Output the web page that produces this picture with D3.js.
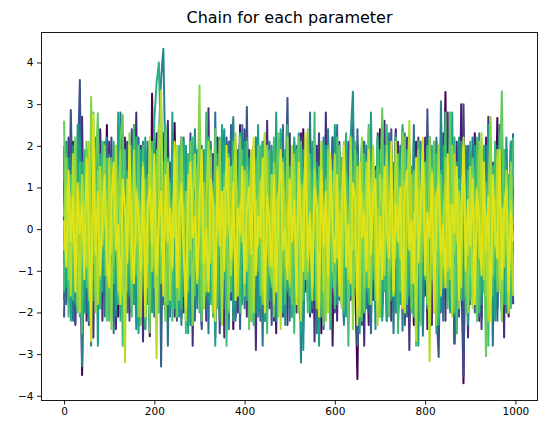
<!DOCTYPE html>
<html><head><meta charset="utf-8">
<script src="https://cdn.jsdelivr.net/npm/d3@7/dist/d3.min.js"></script>
<style>
body{margin:0;background:#fff;}
text{font-family:"DejaVu Sans",sans-serif;fill:#000;}
</style></head>
<body><svg id="chart" width="546" height="434"></svg>
<script>
// iteration index of each stored sample (every 5th draw of 1000)
const iterations = d3.range(0, 1000, 5);
const title = "Chain for each parameter";
const xTicks = [0, 200, 400, 600, 800, 1000];
const yTicks = [-4, -3, -2, -1, 0, 1, 2, 3, 4];

const chain0 = [0.4,-1.2,1.6,0.3,-0.8,1.9,-0.2,0.9,-3.5,1.1,-0.6,0.2,1.4,-1.7,0.7,-0.3,-1.9,1.2,0.1,2.5,
-1.1,0.6,-0.4,1.8,-2.1,0.3,1.0,-0.9,0.5,-1.4,1.3,2.5,-0.7,0.0,-1.6,0.8,1.7,-0.5,-2.57,3.25,
-0.3,0.9,-1.3,1.5,0.2,-2.0,0.7,-0.1,1.1,2.55,-0.9,0.4,-1.8,1.2,-0.4,0.6,2.1,-1.1,0.3,-0.7,
1.4,-2.3,0.5,0.9,-0.6,1.7,-1.5,0.1,2.2,-0.8,0.4,-1.2,1.0,-0.2,1.9,-2.4,0.6,-0.5,1.3,0.0,
-1.0,2.3,-0.3,0.8,-1.9,1.1,0.2,-0.7,1.6,-2.2,0.5,1.2,-0.4,2.0,-1.3,0.3,-0.9,1.5,-1.6,0.7,
0.1,-2.1,1.8,-0.5,0.9,-1.4,2.4,-0.2,0.6,-1.1,1.3,-0.8,0.2,1.9,-2.5,0.4,-0.3,1.0,-1.7,2.2,
-0.6,0.8,-1.5,1.4,0.0,-2.0,1.7,-0.4,0.5,-1.2,-3.6,1.1,-0.7,2.1,-0.1,0.9,-1.8,1.5,-0.5,0.3,
2.4,-1.3,0.7,-2.2,1.2,-0.3,0.6,1.8,-1.0,0.2,-1.6,2.0,-0.8,0.4,1.3,-2.3,0.9,-0.2,1.6,-1.1,
0.5,-0.9,2.2,-1.5,0.3,1.0,-2.1,0.7,-0.4,3.29,-1.2,0.8,1.4,-2.75,0.1,1.9,-0.6,-3.7,1.2,-0.3,
0.6,-1.4,2.3,-0.2,-1.9,1.1,0.4,-0.8,1.7,-2.0,0.9,-0.5,2.67,-1.3,0.2,1.5,-1.7,0.7,-0.4,1.0];
const chain1 = [-0.7,1.3,0.2,-1.8,2.1,-0.4,0.8,-1.1,1.6,0.0,-2.2,1.0,-0.3,1.9,-1.4,0.6,2.4,-0.9,0.3,-1.6,
1.2,-0.2,-2.0,0.9,1.7,-1.3,0.4,2.2,-0.6,0.1,-1.9,1.4,-0.8,0.7,2.0,-2.4,0.5,-0.1,1.5,-1.2,
0.3,2.3,-1.7,0.8,-0.5,1.1,-2.1,0.6,1.8,-0.9,0.0,-1.5,2.1,-0.3,0.9,-2.3,1.3,0.2,-1.0,1.6,
-0.4,0.7,-1.8,2.2,-0.7,1.0,0.3,-2.6,1.5,-0.2,0.8,-1.3,2.0,-0.6,0.4,1.2,-1.9,0.1,2.5,-1.1,
0.5,-0.8,1.7,-2.2,0.2,1.4,-0.5,0.9,-1.6,2.1,-0.1,-1.0,1.3,0.6,-2.5,1.8,-0.3,0.7,-1.4,2.0,
-0.9,0.4,1.6,-1.7,0.0,2.3,-1.2,0.8,-0.4,1.1,-2.0,0.5,1.9,-0.7,0.3,-1.5,2.2,-0.2,0.9,-2.8,
1.0,-0.6,0.2,1.7,-1.3,0.6,-2.1,1.4,0.1,-0.8,2.0,-1.6,0.4,1.2,-0.3,-2.3,0.8,1.5,-1.0,0.3,
-1.9,2.2,-0.4,0.7,1.3,-1.2,0.0,2.4,-2.2,0.5,-0.7,1.0,-1.4,1.8,0.2,-0.9,2.1,-1.8,0.6,-0.1,
1.5,-2.4,0.9,-0.5,1.1,0.3,-1.6,2.0,-0.2,0.7,-1.1,1.6,-2.0,0.4,1.2,-0.6,3.0,-1.3,0.1,-0.8,
1.9,-1.5,0.6,0.0,-2.2,1.4,-0.4,2.2,-1.0,0.8,-1.7,0.3,1.1,-0.9,2.0,-1.4,0.5,-2.1,1.3,-0.3];
const chainA = [1.9,-1.6,2.2,-2.0,1.4,-2.3,1.7,-1.2,2.7,-1.8,0.6,-2.1,1.5,-2.6,2.0,-1.3,2.3,-2.2,1.1,-1.7,
2.1,-1.4,1.6,-2.4,0.9,-1.8,2.2,-1.5,1.8,-2.0,1.3,-1.1,2.8,-1.9,1.6,-2.7,1.9,-0.8,2.0,-1.6,
1.2,-2.3,2.1,-1.7,1.5,-1.9,2.6,-1.4,1.7,-2.1,0.8,-1.6,2.2,-2.0,1.4,-1.2,1.9,-2.8,1.6,-1.5,
2.0,-1.8,1.3,-2.2,2.9,-1.6,1.8,-1.0,2.1,-1.9,1.5,-2.6,1.1,-1.7,2.2,-1.4,1.7,-2.0,2.3,-1.2,
1.6,-2.1,1.9,-1.5,1.2,-2.9,2.0,-1.8,1.4,-1.3,2.6,-1.9,1.8,-2.2,0.9,-1.6,2.1,-1.4,1.7,-2.3,
2.3,-1.1,1.5,-2.0,1.9,-1.7,2.2,-1.5,1.3,-2.1,1.7,-2.7,2.0,-1.2,1.6,-1.9,2.8,-1.6,1.1,-1.8,
1.8,-2.2,2.1,-1.3,1.4,-2.0,1.9,-1.6,2.7,-1.4,1.2,-1.9,2.0,-2.8,1.6,-1.1,2.2,-1.7,1.5,-2.1,
1.3,-1.8,2.6,-1.5,1.7,-2.2,1.0,-2.0,2.1,-1.6,1.9,-1.3,2.2,-2.9,1.5,-1.7,1.8,-2.1,2.0,-1.2,
2.2,-1.9,1.4,-2.3,1.8,-1.0,2.0,-1.7,1.6,-2.2,2.8,-1.5,1.2,-1.8,2.1,-2.0,1.7,-1.4,1.9,-2.6,
1.5,-1.6,2.2,-1.9,1.3,-2.1,1.8,-1.2,2.7,-1.7,1.6,-2.0,2.0,-1.5,1.1,-2.6,1.9,-1.3,2.1,-1.8];
const chain2 = [1.1,-1.5,0.3,0.9,-2.0,1.6,-0.7,0.2,1.8,-1.1,0.5,-2.3,1.2,-0.4,0.8,2.0,-1.6,0.1,-0.9,1.4,
-0.2,2.2,-1.4,0.6,0.0,-1.8,1.3,-0.6,2.1,-2.2,0.7,0.3,-1.0,1.7,-0.3,0.9,-2.4,1.5,-0.5,0.4,
1.9,-1.3,0.2,-0.8,2.3,-1.9,0.6,1.0,-0.2,-1.6,1.4,0.1,-2.1,0.8,1.7,-0.7,0.3,-1.2,2.2,-0.4,
0.9,-2.0,1.2,0.5,-1.5,0.0,1.8,-0.9,0.4,-2.5,1.6,-0.3,0.7,2.1,-1.7,0.2,-0.6,1.3,-1.1,0.8,
2.4,-1.2,0.1,-0.7,1.5,-2.2,0.6,1.1,-0.4,0.3,-1.8,2.0,-0.1,0.8,-1.3,1.6,0.0,-2.1,1.2,-0.5,
0.4,1.9,-1.6,0.7,-0.3,2.2,-2.4,1.0,0.2,-0.9,1.4,-1.4,0.5,2.3,-0.8,0.1,-1.9,1.1,-0.2,0.6,
-2.0,1.7,0.3,-1.1,0.9,-0.4,2.1,-1.7,0.0,1.3,-0.6,0.8,-2.3,1.5,-0.1,0.4,1.9,-1.2,0.7,-0.8,
1.2,-2.1,0.5,0.2,-1.5,2.0,-0.3,1.0,-1.9,0.6,1.7,-0.7,0.1,-2.2,1.3,-0.4,0.9,2.2,-1.0,0.3,
-1.6,0.8,1.5,-0.2,-2.0,1.1,0.4,-0.9,2.3,-1.3,0.0,1.6,-0.5,0.7,-1.8,1.2,-0.6,3.0,-1.1,0.5,
0.2,-1.4,1.8,-0.3,0.9,-2.4,1.0,0.6,-0.8,2.1,-1.5,0.3,-0.1,1.4,-2.0,0.8,0.4,-1.2,1.7,-0.6];
const chain3 = [-2.12,0.8,-0.5,2.86,0.1,-2.26,1.2,3.58,-1.0,0.4,-1.7,1.5,-0.2,0.9,2.0,-1.3,0.3,-0.8,1.7,-2.1,
0.6,1.1,-0.4,-1.9,2.2,0.0,-1.1,1.4,-0.6,0.7,2.4,-1.5,0.2,-2.33,1.0,-0.3,1.8,-0.9,0.5,-1.6,
1.3,-0.1,2.1,-2.0,0.4,0.9,-1.2,1.6,-0.7,0.3,-2.2,1.9,0.1,-0.5,1.2,-1.8,2.3,-0.4,0.6,-1.0,
1.5,-2.4,0.2,0.8,-1.4,2.0,-0.3,1.1,-1.7,0.5,0.0,-0.9,2.2,-1.2,0.4,1.3,-2.1,0.7,-0.2,1.6,
-1.3,2.93,-0.8,0.3,-1.9,1.2,0.6,-0.4,2.1,-1.6,0.1,0.9,-2.3,1.4,-0.6,0.2,1.8,-1.1,0.5,3.15,
-0.7,-1.5,1.0,0.3,-2.0,1.7,-0.2,0.8,-1.2,2.2,-0.5,0.1,-1.8,1.3,0.6,-2.4,1.9,-0.3,0.7,-1.0,
2.1,-1.6,0.4,1.1,-0.8,0.0,-2.2,1.5,-0.4,0.9,2.0,-1.3,0.2,-0.7,1.6,-2.0,0.8,0.3,-1.4,2.3,
-0.1,-1.8,1.2,0.5,-0.9,2.4,-1.7,0.6,0.0,-1.1,1.4,-2.3,0.7,1.9,-0.5,0.2,-1.5,1.0,-0.3,2.1,
-1.2,2.88,-0.6,0.4,1.3,-1.9,-3.07,0.9,-0.2,1.7,-1.4,0.5,2.2,-0.8,0.1,-2.1,1.1,-3.53,0.6,-0.4,
1.8,-1.0,0.3,-2.2,1.5,0.7,-0.9,2.0,-1.6,0.2,1.2,-0.5,-1.9,0.8,2.3,-1.3,0.4,-0.7,1.6,-1.8];
const chain4 = [0.9,-1.8,1.5,-0.3,0.2,2.1,-1.2,0.6,-0.7,1.8,-2.0,0.4,1.1,-1.5,0.0,2.3,-0.9,0.5,-1.3,0.8,
-0.4,1.6,-2.2,0.3,1.2,-0.8,0.7,-1.6,2.0,0.1,-1.0,1.4,-0.2,2.2,-1.9,0.6,-0.5,1.0,-2.3,1.7,
0.2,-1.1,2.4,-3.3,0.8,1.3,-0.6,0.0,-1.7,1.9,-0.3,0.7,2.1,-1.4,0.4,-2.1,1.2,-0.1,0.9,-1.2,
1.7,-0.7,0.3,-2.0,1.4,0.6,-1.5,2.2,-0.4,0.1,1.0,-1.9,0.5,-0.9,2.5,-1.3,0.2,1.5,-2.4,0.7,
-0.2,1.1,-1.6,0.4,2.0,-0.8,0.0,-2.2,1.6,0.3,-1.1,1.9,-0.5,0.8,-1.8,1.3,2.3,-1.4,0.1,-0.6,
1.2,-2.0,0.6,1.8,-0.3,-1.3,0.9,2.1,-1.7,0.2,-0.7,1.4,-2.3,0.5,1.0,-0.1,1.7,-1.0,0.4,2.2,
-1.5,0.8,-0.4,1.3,-2.1,0.0,1.9,-0.9,0.6,-1.6,2.4,-0.2,0.7,-1.2,1.5,0.3,-2.5,1.1,-0.6,0.9,
-1.8,2.0,0.1,-0.7,1.4,-1.4,0.5,2.3,-2.0,0.2,0.8,-1.1,1.6,-0.3,-1.9,1.2,0.4,-0.8,2.1,-1.5,
0.7,0.0,-2.2,1.7,-0.5,1.0,-1.3,2.2,-0.1,0.6,-1.7,1.3,0.3,-2.73,0.9,1.8,-0.9,0.2,-1.4,2.0,
-0.6,1.1,-2.0,0.5,1.5,-0.3,0.8,-1.6,2.3,-1.1,0.1,1.4,-2.2,0.7,-0.4,1.9,-1.2,0.3,1.0,2.3];
const chainB = [-1.7,2.1,-1.3,1.8,-2.2,1.5,-1.9,2.5,-1.1,1.6,-2.0,1.2,-2.8,1.9,-1.5,2.0,-1.8,1.4,-2.1,2.2,
-1.2,1.7,-2.5,1.3,-1.6,2.8,-1.9,1.1,-2.0,1.8,-1.4,2.2,-1.7,1.5,-2.2,1.0,-1.8,2.1,-1.3,1.9,
-2.1,1.4,-1.5,2.5,-1.8,1.6,-2.8,1.2,-1.3,2.0,-1.9,1.7,-1.1,2.2,-2.0,1.5,-1.6,1.9,-2.2,1.3,
-1.4,2.0,-1.9,1.1,-2.5,1.8,-1.5,2.8,-1.7,1.3,-2.1,1.6,-1.8,2.1,-1.2,1.4,-2.2,1.9,-1.6,2.5,
-1.9,1.2,-2.0,1.7,-1.3,2.2,-1.6,1.5,-2.8,1.9,-1.1,2.1,-1.7,1.3,-2.0,1.8,-1.5,2.5,-1.9,1.0,
-2.2,1.6,-1.4,2.0,-1.8,1.4,-2.1,1.7,-1.2,2.8,-1.9,1.5,-2.5,1.1,-1.6,2.2,-1.3,1.8,-2.0,1.6,
-1.5,2.5,-1.7,1.2,-2.2,1.9,-1.1,2.0,-1.8,1.6,-2.8,1.3,-1.4,2.1,-1.9,1.7,-2.1,1.2,-1.6,2.2,
-2.0,1.5,-1.3,2.2,-1.7,1.0,-2.5,1.8,-1.5,2.0,-1.2,1.9,-2.1,1.4,-1.8,2.5,-1.6,1.1,-2.2,1.7,
-1.3,1.9,-2.0,1.6,-1.4,2.1,-1.9,1.3,-2.2,1.7,-1.6,2.8,-1.1,1.5,-2.5,1.8,-1.7,2.0,-1.2,1.4,
-1.8,2.2,-1.5,1.2,-2.1,1.9,-1.3,2.0,-1.7,1.4,-2.8,1.6,-1.9,2.5,-1.0,1.8,-2.0,1.1,-1.6,2.1];
const chain5 = [-0.3,1.4,-1.7,0.6,2.0,-0.8,0.1,1.2,-3.29,0.9,-0.5,1.7,-1.3,0.4,2.2,-2.0,0.7,-0.2,1.0,-1.4,
1.8,-0.6,0.3,-2.1,1.3,0.0,2.3,-1.2,0.5,-0.9,1.6,-1.8,0.8,0.2,-1.5,2.1,-0.4,1.1,-2.2,0.6,
1.5,-0.7,2.2,3.6,4.33,1.2,-1.6,0.4,-0.9,2.0,-0.1,1.3,-2.3,0.7,-0.4,1.8,-1.1,0.2,2.4,-1.9,
0.5,-0.2,1.1,-1.5,0.8,2.1,-2.0,0.3,-0.6,1.6,-1.3,0.9,0.0,-2.4,1.4,2.69,-0.7,0.4,-1.8,1.2,
-0.3,2.2,-1.4,0.6,0.1,-2.0,1.7,-0.8,0.9,2.3,-1.1,0.2,-0.5,1.5,-2.2,0.7,1.9,-1.6,0.3,-0.4,
1.0,-1.9,2.1,-0.6,0.5,-3.2,1.3,-0.1,0.8,-1.2,2.0,-0.3,1.6,-2.1,0.4,0.9,-1.5,2.4,-0.7,0.1,
-1.1,1.8,-0.4,0.6,-2.3,1.2,0.0,2.2,-1.7,0.5,-0.8,1.4,-0.2,-1.9,2.0,0.3,-1.3,1.0,-0.6,1.7,
-2.0,0.8,0.2,-1.0,2.3,-1.6,0.6,1.3,-0.5,0.9,-2.44,1.5,-0.1,0.4,-1.4,2.1,-0.9,0.7,1.1,-2.56,
0.3,1.9,-1.2,0.0,-0.7,2.2,-1.8,3.07,-0.3,0.6,-1.5,1.2,0.4,-2.1,1.6,-0.5,0.9,-1.0,2.0,-0.2,
-1.7,1.0,0.5,-0.8,2.3,-1.3,0.2,1.4,-2.2,0.7,-0.4,1.8,-1.1,0.1,-1.97,1.3,0.6,-0.9,2.1,-0.5];
const chain6 = [1.2,-0.4,0.8,-1.9,0.3,1.6,-1.1,2.2,-0.6,0.0,1.4,-2.2,0.7,-0.3,1.9,-1.4,0.5,2.1,-0.9,0.2,
-1.6,1.0,0.4,-0.7,2.3,-2.0,0.6,1.3,-0.2,-1.3,1.7,0.1,-2.4,0.9,1.5,-0.5,0.3,-1.8,2.0,-0.1,
0.7,-1.2,1.8,3.0,-0.8,0.5,1.1,-2.1,0.2,1.6,-0.6,-1.5,2.2,0.0,-0.9,1.3,-2.3,0.8,0.4,1.9,
-1.0,0.6,-0.3,2.0,-1.7,1.2,0.1,-0.7,1.5,-2.2,0.9,2.4,-1.3,0.3,-0.5,1.1,-1.9,0.7,2.1,-0.4,
0.2,-1.5,1.7,-0.9,0.6,2.2,-2.1,0.0,1.0,-0.6,1.4,-1.7,0.5,-0.2,2.0,-1.2,0.8,0.3,-2.3,1.6,
-0.7,1.1,0.4,-1.4,2.3,-0.1,-2.9,0.9,1.5,-1.0,0.2,1.8,-1.6,0.6,-0.4,2.1,-2.0,0.7,1.2,-0.3,
0.5,-1.8,1.9,-0.5,0.0,1.4,-1.2,2.2,3.3,-0.8,0.3,-2.1,1.0,0.6,-1.5,1.7,-0.2,0.8,-2.4,1.3,
0.1,-0.9,2.0,-1.3,0.7,1.5,-0.4,-1.9,1.2,0.3,-0.6,2.3,-1.7,0.9,0.0,-1.1,1.6,-2.2,0.5,1.0,
-0.3,1.8,-1.4,0.4,2.1,-0.8,0.2,-2.0,1.3,-0.5,0.8,1.9,-1.2,0.1,-1.6,2.2,-0.7,0.6,1.1,-2.3,
0.9,-0.2,1.5,-1.1,0.4,-1.8,2.0,0.0,-0.6,1.3,-2.1,0.7,1.7,-0.4,0.3,-1.5,2.2,-0.9,0.5,1.2];
const chainC = [2.0,-1.4,1.7,-2.2,1.2,-1.8,2.5,-1.6,1.5,-2.0,1.9,-1.1,2.2,-1.7,1.3,-2.8,1.8,-1.5,2.1,-1.2,
1.6,-2.1,1.1,-1.9,2.8,-1.3,1.8,-2.2,1.4,-1.6,2.0,-1.8,1.2,-2.5,1.9,-1.0,2.2,-1.7,1.5,-2.0,
1.8,-1.5,2.1,-1.2,1.6,-2.2,1.3,-1.9,2.8,-1.4,1.7,-2.1,1.0,-1.6,2.0,-2.5,1.4,-1.8,2.2,-1.1,
1.3,-2.0,1.9,-1.6,2.2,-1.4,1.1,-2.8,1.8,-1.7,2.5,-1.2,1.6,-1.9,1.4,-2.2,2.0,-1.5,1.2,-1.8,
2.1,-1.7,1.4,-2.1,1.8,-1.1,2.5,-1.9,1.2,-2.2,1.7,-1.4,2.0,-1.6,2.8,-1.3,1.5,-2.0,1.9,-1.5,
1.1,-1.8,2.2,-1.5,1.6,-2.5,1.9,-1.2,1.4,-2.0,2.1,-1.7,1.3,-2.8,1.8,-1.1,2.0,-1.9,1.6,-1.4,
2.5,-1.3,1.5,-1.8,2.0,-2.1,1.2,-1.6,2.2,-1.4,1.8,-2.5,1.1,-1.9,1.7,-1.5,2.8,-1.2,1.4,-2.0,
1.9,-2.2,1.3,-1.4,2.1,-1.7,1.6,-2.0,1.0,-1.8,2.5,-1.3,1.9,-1.6,1.2,-2.1,1.7,-2.8,2.0,-1.1,
1.4,-1.9,2.2,-1.2,1.8,-2.5,1.5,-1.5,2.0,-1.1,1.3,-2.0,2.8,-1.8,1.6,-1.4,2.1,-1.7,1.1,-2.2,
1.7,-1.3,2.0,-2.1,1.4,-1.6,1.9,-1.9,2.5,-1.2,1.5,-2.2,1.2,-1.5,2.2,-1.8,1.6,-1.0,2.1,-1.6];
const chain7 = [-0.9,2.0,-0.2,0.7,-1.5,1.1,0.4,-2.1,1.6,-0.5,0.2,1.9,-1.3,0.8,-0.7,2.3,-1.8,0.3,1.2,-0.4,
0.6,-1.6,2.1,-0.3,0.9,-2.2,1.4,0.1,-1.0,1.8,-0.6,0.5,2.2,-1.7,0.0,1.0,-2.4,0.7,1.5,-0.8,
2.6,3.5,4.0,1.9,-1.2,0.3,1.7,-0.5,0.8,-1.9,1.2,0.0,-0.7,2.1,-1.4,0.6,1.5,-2.2,0.4,-0.1,
1.9,-1.1,0.5,-0.6,2.2,-1.8,0.9,0.2,-1.4,1.6,-0.3,2.0,-2.0,0.7,1.1,-0.8,0.3,-1.6,2.3,0.1,
-1.2,0.8,1.4,-0.4,-2.3,1.7,0.2,-0.9,2.1,-1.5,0.6,1.0,-0.2,-1.8,1.3,0.4,2.4,-1.1,0.0,-0.7,
1.5,-2.1,0.9,0.3,-0.5,1.8,-1.3,0.6,2.2,-1.9,0.1,-0.8,1.2,0.5,-1.7,2.0,-0.3,0.8,-2.4,1.4,
0.2,-0.6,1.7,-1.2,0.9,2.3,-2.0,0.4,-0.1,1.1,-1.5,0.7,2.1,-0.9,0.3,-1.8,1.6,0.0,-0.4,2.2,
-1.4,0.6,1.0,-2.2,0.5,1.9,-0.7,0.2,-1.6,1.3,2.4,-1.0,0.8,-0.3,1.5,-2.1,0.4,1.8,-0.8,0.1,
1.2,-1.7,0.3,2.0,-0.5,0.7,-2.3,1.4,0.9,-1.1,0.0,1.7,-0.6,2.2,-1.9,0.5,1.1,-0.2,-1.4,0.8,
2.1,-0.9,0.4,1.3,-1.6,0.2,2.0,-2.2,0.7,-0.4,1.5,-1.2,0.6,2.3,-0.7,0.0,1.0,-1.8,0.9,-0.3];
const chainD = [-1.5,1.8,-2.1,1.3,-1.7,2.2,-1.2,1.6,-2.5,1.9,-1.4,1.1,-2.0,2.8,-1.6,1.4,-1.9,2.1,-1.1,1.7,
-2.2,1.5,-1.3,2.0,-1.8,1.2,-2.8,1.9,-1.5,1.6,-2.1,2.5,-1.1,1.4,-1.7,2.0,-2.2,1.3,-1.6,2.1,
-1.4,1.9,-2.0,1.6,-1.2,2.5,-1.8,1.1,-2.2,1.7,-1.5,2.0,-1.9,1.3,-2.5,1.8,-1.1,2.2,-1.6,1.5,
-2.0,1.2,-1.6,2.8,-1.3,1.7,-2.1,1.5,-1.9,2.2,-1.2,1.4,-2.8,1.8,-1.5,2.1,-1.7,1.0,-2.0,1.9,
-1.3,2.1,-1.8,1.4,-2.2,1.6,-1.0,2.0,-1.7,1.3,-2.5,1.9,-1.4,2.2,-1.1,1.5,-2.0,1.7,-1.8,2.5,
-1.6,1.3,-2.5,1.9,-1.4,2.1,-1.7,1.2,-2.0,1.8,-1.3,2.8,-1.9,1.5,-2.1,1.1,-1.5,2.0,-2.2,1.4,
-1.9,2.2,-1.1,1.7,-2.0,1.4,-2.8,1.9,-1.3,2.1,-1.6,1.2,-2.2,1.8,-1.4,2.5,-1.8,1.5,-1.2,2.0,
-2.1,1.6,-1.5,2.5,-1.9,1.1,-1.6,2.2,-2.5,1.4,-1.2,1.9,-1.8,1.7,-2.0,1.3,-2.8,2.1,-1.4,1.6,
-1.2,2.0,-2.2,1.5,-1.6,1.8,-2.1,1.3,-1.4,2.8,-1.9,1.6,-1.1,2.0,-2.5,1.2,-1.7,1.9,-2.0,1.4,
-1.7,1.5,-1.3,2.2,-2.0,1.7,-1.5,1.1,-2.8,1.8,-1.6,2.1,-1.2,1.4,-2.2,1.9,-1.8,1.3,-1.9,2.2];
const chain8 = [2.6,-0.6,0.9,-1.4,1.8,0.2,-2.0,1.1,-0.3,0.7,2.1,-1.7,0.4,-0.8,1.5,2.78,-1.2,0.0,1.3,-2.2,
0.5,1.7,-0.9,0.3,-1.6,2.2,2.74,-1.1,0.8,0.1,-1.9,1.4,-0.4,2.0,-2.3,0.6,1.2,-0.7,-2.48,1.9,
-0.5,0.9,1.6,-1.3,0.2,2.3,-1.8,0.7,-0.1,1.2,-2.1,0.4,1.8,-0.6,0.0,-1.5,2.1,0.8,-1.0,1.4,
0.3,-2.2,1.0,0.5,-0.8,1.9,-1.4,2.4,-0.2,0.6,-1.7,1.3,0.1,-2.0,0.9,1.6,-0.4,-1.2,2.2,0.3,
-0.9,1.5,-2.4,0.7,1.1,-0.3,2.0,-1.6,0.4,0.0,1.8,-1.1,0.6,-2.1,1.3,2.3,-0.7,0.2,-1.4,1.0,
0.5,-1.8,1.6,-0.4,2.2,-2.0,0.8,0.1,-1.2,1.4,-0.6,2.1,-1.5,0.3,0.9,-2.3,1.2,-0.1,1.7,-0.9,
-1.6,0.6,2.0,-0.8,0.2,1.3,-2.2,0.7,-0.3,1.9,0.4,-1.3,1.1,-2.0,0.5,2.4,-0.5,0.0,-1.7,1.5,
0.8,2.9,-1.0,0.3,-2.1,1.2,0.6,-0.7,1.8,-1.5,0.1,2.2,-0.4,0.9,-1.9,1.4,-0.2,0.7,-2.3,1.0,
1.6,-1.2,0.4,-0.6,2.1,-1.8,0.2,1.3,-0.9,0.5,-1.4,2.79,0.0,-2.0,1.1,0.6,-0.5,1.9,-1.6,0.3,
-1.1,1.7,0.8,-2.2,0.2,1.4,-0.3,-3.05,1.0,2.0,-0.8,0.5,-1.5,1.2,3.31,-0.6,0.9,-1.9,1.5,0.1];
const chain9 = [0.3,1.7,-1.2,0.8,-0.4,2.2,-1.9,0.5,1.1,-0.7,0.0,-1.5,3.17,0.6,-2.0,1.4,-0.3,0.9,2.0,-1.1,
0.4,-2.4,1.3,-0.2,0.7,1.9,-1.6,0.1,-0.8,2.3,-1.3,0.6,1.0,-2.1,0.2,1.6,-0.5,-1.4,2.1,0.8,
-0.9,1.2,2.5,-0.6,0.3,-2.2,1.5,0.0,-1.0,1.8,0.5,-1.7,2.2,-0.3,0.9,-1.2,1.4,-2.3,0.7,0.2,
3.45,-0.8,1.1,-1.5,0.4,1.7,-2.0,0.6,-0.1,2.1,-1.3,0.9,0.3,-1.9,1.5,-0.5,2.3,-1.1,0.0,0.8,
-1.6,1.3,0.5,-2.2,1.9,-0.4,0.7,1.2,-1.8,0.1,2.0,-0.7,-1.3,1.6,0.4,-2.1,1.0,0.6,-0.9,2.2,
-1.4,0.2,1.8,-0.6,-2.0,1.1,0.8,-1.2,2.4,0.0,-0.5,1.5,-1.9,0.7,1.3,-0.3,-2.2,1.9,0.4,-1.0,
1.6,-0.2,0.9,-1.7,2.1,0.3,-1.1,1.4,-2.4,0.6,1.0,-0.7,2.2,-1.4,0.1,0.8,-1.8,1.7,-0.4,0.5,
-2.1,1.2,0.4,2.0,-1.0,0.0,-1.6,1.5,0.7,-0.5,2.3,-2.0,0.9,-0.2,1.3,-1.3,0.6,1.9,-0.8,0.2,
1.1,-1.8,2.2,-0.4,0.5,-2.3,1.4,0.0,-0.9,1.7,0.3,-1.2,2.0,-0.6,1.0,-1.9,0.7,1.5,-0.3,-2.0,
0.8,1.3,-1.4,0.2,2.1,-0.7,0.9,-1.6,0.4,2.69,-1.1,0.6,-0.5,1.8,-2.2,0.3,1.2,-0.8,1.6,-1.3];
const chain10 = [-0.5,1.0,0.4,-1.6,1.8,-0.2,0.7,-2.0,1.3,0.1,-0.9,2.1,-1.3,0.6,0.2,-1.8,1.5,-0.4,0.9,-1.1,
1.7,-0.6,0.3,2.0,-1.5,0.8,-0.1,-3.2,1.2,0.5,-1.2,1.9,-0.3,0.7,-2.1,1.4,0.0,-0.8,2.2,-1.0,
0.6,-3.1,1.1,3.33,-0.7,0.2,1.6,-1.7,0.4,-0.2,2.0,-1.4,0.9,0.3,-2.2,1.3,-0.5,0.7,1.8,-1.3,
0.0,1.2,-1.9,0.5,2.1,-0.8,0.3,-1.4,1.5,0.8,-2.3,1.0,-0.2,1.7,-1.1,0.4,2.2,-1.6,0.6,-0.3,
1.4,-1.0,0.2,1.9,-2.0,0.7,-0.4,1.1,-1.5,2.3,0.0,-0.9,1.3,-1.8,0.5,0.9,-2.4,1.6,-0.1,0.6,
-1.3,2.0,0.3,-0.6,1.2,-2.2,0.8,1.7,-1.0,0.1,-1.7,1.4,0.5,-0.3,2.1,-1.5,0.7,-2.0,1.0,0.2,
1.8,-0.7,0.4,-1.9,1.1,0.6,-1.2,2.2,-0.5,0.0,1.5,-2.1,0.9,-0.2,1.6,-1.4,0.3,2.0,-0.9,-2.3,
1.3,0.5,-1.1,1.8,-0.4,0.8,-1.6,2.1,0.1,-0.7,1.2,-2.0,0.6,2.6,-1.3,0.4,-2.68,1.0,-0.1,1.7,
-0.8,0.3,-3.17,1.4,0.7,-0.5,2.0,-1.6,0.2,1.1,-1.0,0.6,-2.1,1.8,-0.3,0.9,-1.4,2.2,0.0,-0.6,
1.5,-1.9,0.4,1.0,-0.7,2.3,-1.2,0.3,-2.2,1.3,0.8,-0.4,1.9,-1.5,0.5,-0.9,1.4,-2.0,0.7,-1.6];
const chain11 = [0.2,-0.9,1.4,-0.3,0.8,-1.5,1.1,-0.1,0.6,-1.2,1.7,0.0,-2.69,2.76,-0.6,0.9,-1.1,0.4,1.3,-0.7,
-1.4,0.7,1.6,-0.5,0.1,-1.8,1.2,0.5,-0.8,2.0,-0.2,-1.3,0.9,0.3,-1.0,1.5,-2.1,0.6,1.0,-0.4,
1.8,-1.1,0.2,0.9,-1.6,1.3,-0.3,0.5,-0.9,2.1,-1.4,0.4,1.1,-0.6,-1.9,0.8,1.6,-0.2,0.3,-1.2,
0.7,1.9,-0.8,0.0,-1.5,1.2,0.6,-2.2,1.4,-0.4,0.9,-1.0,2.0,0.2,-0.7,1.1,-1.7,0.5,-0.1,1.5,
-1.3,0.4,1.0,-0.6,2.2,-1.1,0.3,-0.2,1.7,-2.0,0.8,0.1,-0.9,1.3,-1.5,0.6,1.9,-0.5,0.0,-1.2,
1.2,-0.3,0.7,-1.8,1.6,0.2,-1.0,2.3,-0.7,0.4,-1.4,1.0,0.6,-2.1,1.4,-0.4,0.9,-1.1,1.8,0.0,
-0.8,1.3,-1.6,0.5,2.0,-0.9,0.1,-1.3,1.1,0.7,-2.3,1.6,-0.2,0.4,-1.0,1.9,-0.6,0.8,1.2,-1.7,
0.3,-1.2,1.5,0.0,-0.7,2.1,-1.5,0.6,-0.3,1.0,-1.9,0.9,1.4,-0.5,0.2,-1.3,1.7,-0.8,0.5,2.2,
-1.1,0.4,-0.2,1.3,-2.0,0.8,1.1,-0.6,0.1,-1.4,1.8,-0.9,0.6,-0.1,1.5,-1.7,0.3,2.0,-1.0,0.7,
-0.4,1.2,-1.8,0.9,0.2,-1.1,1.6,-0.5,0.8,-2.2,1.3,0.0,-0.7,1.9,-1.2,0.5,1.0,-1.5,0.4,-0.3];

// drawing order = colour order (first = dark purple, last = yellow, drawn on top)
const chains = [chain0, chain1, chainA, chain2, chain3, chain4, chainB, chain5,
                chain6, chainC, chain7, chainD, chain8, chain9, chain10, chain11];
</script>
<script>
const svg = d3.select("#chart");
const W = 546, H = 434;
const m = {left: 41.5, right: 8.5, top: 32, bottom: 34};
const pw = W - m.left - m.right, ph = H - m.top - m.bottom;

const nIter = 999;
const x = d3.scaleLinear().domain([-0.05 * nIter, nIter * 1.05]).range([m.left, m.left + pw]);
const allVals = chains.flat();
const [ymin, ymax] = d3.extent(allVals);
const pad = (ymax - ymin) * 0.05;
const y = d3.scaleLinear().domain([ymin - pad, ymax + pad]).range([m.top + ph, m.top]);

const colors = chains.map((_, i) => d3.interpolateViridis(0.95 * i / (chains.length - 1)));

svg.append("defs").append("clipPath").attr("id", "clip")
  .append("rect").attr("x", m.left).attr("y", m.top).attr("width", pw).attr("height", ph);

const line = d3.line().x((d, i) => x(iterations[i])).y(d => y(d));
const g = svg.append("g").attr("clip-path", "url(#clip)");
chains.forEach((c, i) => {
  g.append("path").datum(c).attr("d", line)
    .attr("fill", "none").attr("stroke", colors[i])
    .attr("stroke-width", 2).attr("stroke-linejoin", "round");
});

const xAxis = svg.append("g").attr("transform", `translate(0,${m.top + ph})`)
  .call(d3.axisBottom(x).tickValues(xTicks).tickSize(4.5).tickPadding(3.5).tickFormat(d3.format("d")));
const yAxis = svg.append("g").attr("transform", `translate(${m.left},0)`)
  .call(d3.axisLeft(y).tickValues(yTicks).tickSize(4.5).tickPadding(3.5).tickFormat(d => d < 0 ? "\u2212" + Math.abs(d) : String(d)));
[xAxis, yAxis].forEach(a => {
  a.select(".domain").remove();
  a.selectAll(".tick line").attr("stroke", "#000").attr("stroke-width", 0.9);
  a.selectAll(".tick text").attr("font-family", "DejaVu Sans").attr("font-size", 10.5).attr("fill", "#000");
});

svg.append("rect").attr("x", m.left).attr("y", m.top).attr("width", pw).attr("height", ph)
  .attr("fill", "none").attr("stroke", "#000").attr("stroke-width", 0.9).attr("shape-rendering", "crispEdges");

svg.append("text").attr("x", m.left + pw / 2).attr("y", 23)
  .attr("text-anchor", "middle").attr("font-size", 16).text(title);
</script>
</body></html>
